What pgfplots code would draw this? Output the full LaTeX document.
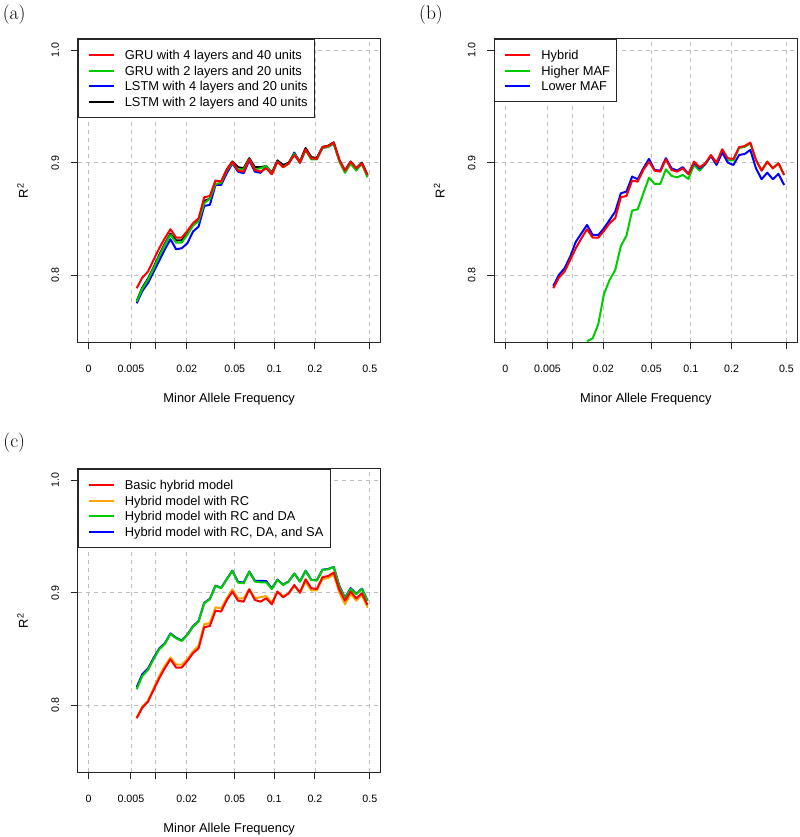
\documentclass[border=0pt]{standalone}
\usepackage{pgfplots}
\pgfplotsset{compat=1.18}
\usepackage{pgfplotstable}
\usepackage{fontspec}
\newfontfamily\arial{Liberation Sans}
\definecolor{rred}{RGB}{255,0,0}
\definecolor{rgreen}{RGB}{0,205,0}
\definecolor{rblue}{RGB}{0,0,255}
\definecolor{rorange}{RGB}{255,165,0}
\definecolor{rgrid}{RGB}{190,190,190}

\pgfplotstableread{
maf gru4 gru2 lstm4 lstm2
0.00599 0.7885 0.7766 0.7751 0.7770
0.00705 0.7979 0.7880 0.7860 0.7890
0.00822 0.8032 0.7960 0.7930 0.7970
0.00950 0.8136 0.8060 0.8030 0.8070
0.01091 0.8240 0.8170 0.8130 0.8180
0.01245 0.8329 0.8270 0.8230 0.8280
0.01413 0.8409 0.8360 0.8320 0.8370
0.01599 0.8334 0.8290 0.8231 0.8310
0.01802 0.8334 0.8290 0.8240 0.8310
0.02025 0.8394 0.8360 0.8284 0.8370
0.02269 0.8462 0.8440 0.8388 0.8450
0.02537 0.8506 0.8480 0.8432 0.8490
0.02832 0.8693 0.8640 0.8616 0.8660
0.03154 0.8704 0.8680 0.8625 0.8680
0.03508 0.8840 0.8810 0.8802 0.8840
0.03896 0.8832 0.8820 0.8802 0.8830
0.04322 0.8935 0.8930 0.8906 0.8940
0.04789 0.9009 0.9000 0.8994 0.9010
0.05301 0.8929 0.8940 0.8920 0.8960
0.05862 0.8920 0.8940 0.8906 0.8950
0.06479 0.9030 0.9030 0.9020 0.9040
0.07154 0.8935 0.8940 0.8920 0.8960
0.07895 0.8920 0.8950 0.8910 0.8960
0.08708 0.8950 0.8970 0.8960 0.8970
0.09600 0.8897 0.8900 0.8900 0.8910
0.10578 0.9009 0.9010 0.9010 0.9020
0.11651 0.8959 0.8960 0.8970 0.8980
0.12827 0.8994 0.8990 0.8990 0.9000
0.14118 0.9068 0.9080 0.9090 0.9080
0.15533 0.9000 0.9000 0.9000 0.9010
0.17086 0.9119 0.9110 0.9120 0.9130
0.18788 0.9039 0.9030 0.9040 0.9050
0.20656 0.9033 0.9030 0.9040 0.9040
0.22705 0.9137 0.9130 0.9130 0.9140
0.24951 0.9148 0.9140 0.9140 0.9150
0.27416 0.9178 0.9170 0.9170 0.9180
0.30119 0.9024 0.9010 0.9020 0.9020
0.33084 0.8929 0.8910 0.8920 0.8930
0.36336 0.9009 0.8990 0.9000 0.9010
0.39903 0.8950 0.8930 0.8940 0.8950
0.43815 0.8994 0.8990 0.8990 0.9000
0.48106 0.8891 0.8870 0.8880 0.8890
}\tabA

\pgfplotstableread{
maf hybrid higher lower
0.00599 0.7885 nan 0.7906
0.00705 0.7979 nan 0.8003
0.00822 0.8032 nan 0.8062
0.00950 0.8136 nan 0.8165
0.01091 0.8240 nan 0.8298
0.01245 0.8329 nan 0.8373
0.01413 0.8409 0.7415 0.8447
0.01599 0.8334 0.7440 0.8358
0.01802 0.8334 0.7568 0.8358
0.02025 0.8394 0.7834 0.8417
0.02269 0.8462 0.7958 0.8491
0.02537 0.8506 0.8047 0.8565
0.02832 0.8693 0.8260 0.8728
0.03154 0.8704 0.8352 0.8743
0.03508 0.8840 0.8574 0.8876
0.03896 0.8832 0.8586 0.8853
0.04322 0.8935 0.8728 0.8950
0.04789 0.9009 0.8867 0.9033
0.05301 0.8929 0.8811 0.8935
0.05862 0.8920 0.8811 0.8929
0.06479 0.9030 0.8941 0.9040
0.07154 0.8935 0.8882 0.8950
0.07895 0.8920 0.8870 0.8930
0.08708 0.8950 0.8891 0.8960
0.09600 0.8897 0.8855 0.8900
0.10578 0.9009 0.8980 0.9000
0.11651 0.8959 0.8930 0.8950
0.12827 0.8994 0.8985 0.8990
0.14118 0.9068 0.9060 0.9060
0.15533 0.9000 0.8990 0.8980
0.17086 0.9119 0.9100 0.9090
0.18788 0.9039 0.9020 0.9000
0.20656 0.9033 0.9020 0.8980
0.22705 0.9137 0.9130 0.9068
0.24951 0.9148 0.9140 0.9077
0.27416 0.9178 0.9170 0.9113
0.30119 0.9024 0.9024 0.8950
0.33084 0.8929 0.8929 0.8853
0.36336 0.9009 0.9009 0.8911
0.39903 0.8950 0.8950 0.8853
0.43815 0.8994 0.8994 0.8900
0.48106 0.8891 0.8891 0.8802
}\tabB

\pgfplotstableread{
maf basic rc rcda rcdasa
0.00599 0.7885 0.7890 0.8142 0.8160
0.00705 0.7979 0.7990 0.8260 0.8275
0.00822 0.8032 0.8040 0.8313 0.8325
0.00950 0.8136 0.8150 0.8409 0.8420
0.01091 0.8240 0.8260 0.8497 0.8505
0.01245 0.8329 0.8350 0.8544 0.8550
0.01413 0.8409 0.8425 0.8633 0.8638
0.01599 0.8334 0.8360 0.8595 0.8600
0.01802 0.8334 0.8360 0.8571 0.8575
0.02025 0.8394 0.8410 0.8624 0.8628
0.02269 0.8462 0.8480 0.8698 0.8702
0.02537 0.8506 0.8530 0.8743 0.8748
0.02832 0.8693 0.8720 0.8906 0.8910
0.03154 0.8704 0.8730 0.8941 0.8945
0.03508 0.8840 0.8870 0.9060 0.9063
0.03896 0.8832 0.8860 0.9039 0.9042
0.04322 0.8935 0.8950 0.9119 0.9121
0.04789 0.9009 0.9030 0.9193 0.9195
0.05301 0.8929 0.8950 0.9089 0.9095
0.05862 0.8920 0.8950 0.9083 0.9090
0.06479 0.9030 0.9030 0.9186 0.9188
0.07154 0.8935 0.8950 0.9098 0.9105
0.07895 0.8920 0.8960 0.9092 0.9105
0.08708 0.8950 0.8970 0.9092 0.9103
0.09600 0.8897 0.8910 0.9033 0.9038
0.10578 0.9009 0.9010 0.9113 0.9116
0.11651 0.8959 0.8970 0.9068 0.9072
0.12827 0.8994 0.8990 0.9098 0.9100
0.14118 0.9068 0.9060 0.9169 0.9170
0.15533 0.9000 0.9000 0.9098 0.9100
0.17086 0.9119 0.9100 0.9193 0.9195
0.18788 0.9039 0.9020 0.9113 0.9115
0.20656 0.9033 0.9020 0.9107 0.9110
0.22705 0.9137 0.9120 0.9202 0.9204
0.24951 0.9148 0.9130 0.9208 0.9210
0.27416 0.9178 0.9160 0.9228 0.9228
0.30119 0.9024 0.9000 0.9053 0.9060
0.33084 0.8929 0.8897 0.8950 0.8955
0.36336 0.9009 0.8990 0.9033 0.9040
0.39903 0.8950 0.8930 0.8986 0.8990
0.43815 0.8994 0.8980 0.9033 0.9036
0.48106 0.8891 0.8867 0.8926 0.8930
}\tabC

\pgfplotsset{
  mafaxis/.style={
    scale only axis, width=303bp, height=303.3bp,
    xmin=-5.479, xmax=-0.505, ymin=0.7405, ymax=1.0098,
    xtick={-5.29832,-4.60517,-4.19971,-3.68888,-2.90042,-2.25379,-1.58475,-0.68320},
    xticklabels={0,0.005,{},0.02,0.05,0.1,0.2,0.5},
    ytick={0.8,0.9,1.0}, yticklabels={0.8,0.9,1.0},
    grid=major,
    major grid style={rgrid, dash pattern=on 4bp off 4bp, line width=0.8bp},
    axis line style={line width=1bp, black!85},
    tick align=outside, major tick length=7bp,
    tick style={line width=1bp, black!85},
    xtick pos=bottom, ytick pos=left,
    font=\arial,
    /pgf/number format/assume math mode=true,
    tick label style={font=\arial\fontsize{10.7}{12}\selectfont, inner sep=0pt, text height=7.7bp, text depth=0pt},
    xticklabel style={anchor=north, yshift=-15bp},
    yticklabel style={xshift=-11.7bp, rotate=90, anchor=south},
    ylabel={R\textsuperscript{2}},
    xlabel={Minor Allele Frequency},
    label style={font=\arial\fontsize{12.9}{14}\selectfont, inner sep=0pt, text height=9.2bp, text depth=0pt},
    xlabel style={at={(axis description cs:0.5,-0.1827)}, anchor=center},
    ylabel style={at={(axis description cs:-0.1794,0.5)}, anchor=center},
    legend style={at={(0,1)}, anchor=north west, draw=black!85, line width=1bp, fill=white,
      inner xsep=6.7bp, inner ysep=11bp, row sep=6.4bp, /tikz/column sep=0pt,
      cells={anchor=west},
      nodes={inner sep=0pt, text height=9.2bp, text depth=0pt, font=\arial\fontsize{12.9}{14}\selectfont}},
    legend image code/.code={\draw[##1, line width=2bp] (0bp,0bp) -- (25bp,0bp); \path[draw=none,fill=none] (-3.6bp,0bp) -- (36.3bp,0bp);},
    every axis plot/.append style={line width=2bp, line join=round},
  }
}

\begin{document}
\begin{tikzpicture}
\path[use as bounding box] (0,0) rectangle (800bp,837bp);

\node[font=\fontsize{19.5}{20}\selectfont] at (14.2bp,822bp) {(a)};
\node[font=\fontsize{19.5}{20}\selectfont] at (431bp,822bp) {(b)};
\node[font=\fontsize{19.5}{20}\selectfont] at (14.2bp,394.5bp) {(c)};

% Panel (a)
\begin{axis}[mafaxis, at={(77.7bp,494.7bp)}, anchor=south west]
\addlegendimage{rred}
\addlegendimage{rgreen}
\addlegendimage{rblue}
\addlegendimage{black}
\addplot[rblue, forget plot] table[x expr={ln(\thisrow{maf}+0.005)}, y=lstm4] {\tabA};
\addplot[black, forget plot] table[x expr={ln(\thisrow{maf}+0.005)}, y=lstm2] {\tabA};
\addplot[rgreen, forget plot] table[x expr={ln(\thisrow{maf}+0.005)}, y=gru2] {\tabA};
\addplot[rred, forget plot] table[x expr={ln(\thisrow{maf}+0.005)}, y=gru4] {\tabA};
\legend{GRU with 4 layers and 40 units, GRU with 2 layers and 20 units, LSTM with 4 layers and 20 units, LSTM with 2 layers and 40 units}
\end{axis}

% Panel (b)
\begin{axis}[mafaxis, at={(494.3bp,494.7bp)}, anchor=south west]
\addlegendimage{rred}
\addlegendimage{rgreen}
\addlegendimage{rblue}
\addplot[rgreen, forget plot] table[x expr={ln(\thisrow{maf}+0.005)}, y=higher] {\tabB};
\addplot[rblue, forget plot] table[x expr={ln(\thisrow{maf}+0.005)}, y=lower] {\tabB};
\addplot[rred, forget plot] table[x expr={ln(\thisrow{maf}+0.005)}, y=hybrid] {\tabB};
\legend{Hybrid, Higher MAF, Lower MAF}
\end{axis}

% Panel (c)
\begin{axis}[mafaxis, at={(77.7bp,64.7bp)}, anchor=south west]
\addlegendimage{rred}
\addlegendimage{rorange}
\addlegendimage{rgreen}
\addlegendimage{rblue}
\addplot[rblue, forget plot] table[x expr={ln(\thisrow{maf}+0.005)}, y=rcdasa] {\tabC};
\addplot[rgreen, forget plot] table[x expr={ln(\thisrow{maf}+0.005)}, y=rcda] {\tabC};
\addplot[rorange, forget plot] table[x expr={ln(\thisrow{maf}+0.005)}, y=rc] {\tabC};
\addplot[rred, forget plot] table[x expr={ln(\thisrow{maf}+0.005)}, y=basic] {\tabC};
\legend{Basic hybrid model, Hybrid model with RC, Hybrid model with RC and DA, {Hybrid model with RC, DA, and SA}}
\end{axis}
\end{tikzpicture}
\end{document}
